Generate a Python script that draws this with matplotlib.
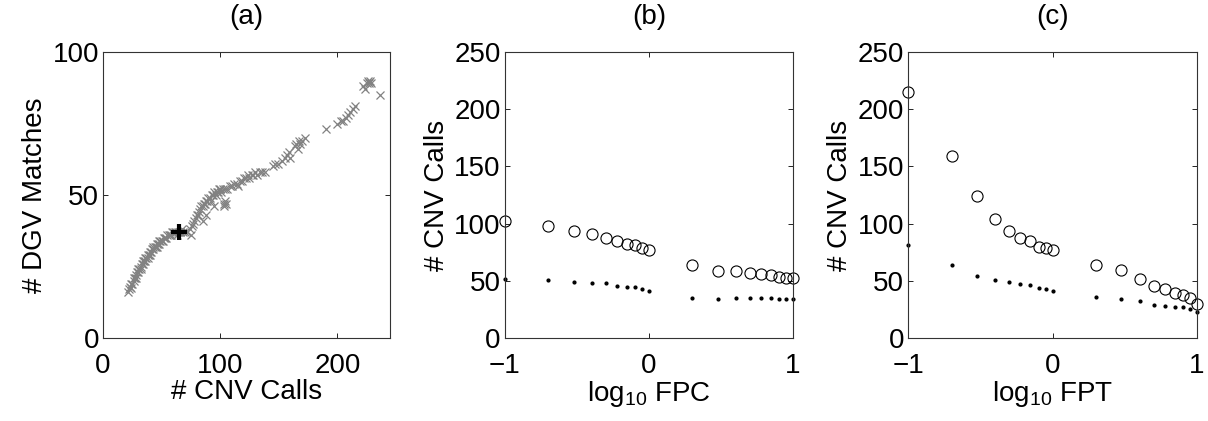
import numpy as np
import matplotlib.pyplot as plt

plt.rcParams['font.family'] = ['Liberation Sans', 'DejaVu Sans']
plt.rcParams['mathtext.fontset'] = 'custom'
plt.rcParams['mathtext.rm'] = 'Liberation Sans'

# (a) DGV matches vs number of CNV calls, one point per parameter setting
cnv_calls = [21, 22, 23, 24, 24, 25, 26, 26, 27, 28, 28, 29, 30, 30, 31, 32, 32,
             33, 34, 34, 35, 36, 36, 37, 38, 38, 39, 40, 40, 41, 42, 43, 43, 44,
             45, 46, 46, 47, 48, 48, 49, 50, 51, 52, 53, 54, 55, 56, 57, 58, 59,
             60, 61, 62, 63, 64, 66, 67, 68, 70, 72, 74, 75, 76, 77, 78, 79, 80,
             81, 82, 83, 84, 85, 85, 86, 87, 88, 88, 89, 90, 91, 92, 93, 94, 95,
             95, 96, 97, 98, 99, 100, 101, 102, 103, 104, 103, 105, 104, 106, 108,
             110, 112, 114, 115, 117, 119, 120, 122, 124, 125, 127, 128, 130, 131,
             134, 136, 138, 145, 147, 149, 153, 155, 157, 159, 160, 164, 165, 166,
             167, 168, 170, 172, 190, 200, 203, 205, 207, 209, 211, 213, 215, 222,
             224, 225, 226, 227, 228, 229, 236]
dgv_matches = [16, 17, 18, 17.5, 19, 19, 20, 21, 21, 22, 21, 23, 23, 24, 24, 25,
               24, 26, 26, 27, 27, 27, 28, 28, 29, 28, 29, 30, 29, 30, 31, 31, 32,
               32, 32, 32, 33, 33, 33, 34, 34, 34, 34, 35, 35, 35, 36, 36, 36, 36,
               37, 37, 37, 37, 36, 37, 37, 38, 37, 37, 37, 38, 36, 39, 40, 41, 42,
               43, 43, 44, 45, 46, 46, 41, 47, 47, 48, 43, 48, 49, 49, 48, 50, 50,
               51, 46, 50, 51, 51, 52, 52, 51, 52, 47, 48, 46, 47, 52, 52, 53, 53,
               54, 54, 53, 55, 55, 56, 56, 57, 56, 57, 57, 58, 57, 58, 58, 58, 60,
               61, 61, 62, 63, 64, 65, 63, 67, 68, 66, 69, 68, 69, 70, 73, 75, 76,
               76, 77, 78, 79, 80, 81, 88, 87, 89, 90, 89, 90, 89, 85]
chosen_calls = [65]
chosen_matches = [37]

# (b) and (c) CNV calls against the false-positive thresholds
thresholds = [0.1, 0.2, 0.3, 0.4, 0.5, 0.6, 0.7, 0.8, 0.9, 1.0,
              2, 3, 4, 5, 6, 7, 8, 9, 10]
fpc_total = [102, 98, 93.5, 91, 87.7, 84.8, 82.5, 81, 79, 76.7,
             63.6, 58.6, 58.6, 57.2, 56.3, 55.2, 53.7, 52.5, 52.3]
fpc_dgv = [51.4, 50.8, 48.8, 47.9, 47.9, 45.9, 44.7, 45, 42.9, 40.9,
           35.4, 34.5, 35.4, 35.4, 35.4, 35.4, 34.5, 34, 33.8]
fpt_total = [215.4, 159, 124.3, 103.7, 93.8, 87.4, 84.8, 79.5, 78.4, 77,
             63.6, 59.8, 51.7, 45.6, 42.7, 39.2, 37.2, 34.6, 29.8]
fpt_dgv = [81, 63.8, 54.6, 50.7, 48.7, 47.6, 46.6, 43.8, 42.8, 40.7,
           35.6, 34.5, 32.4, 29.2, 28.4, 27.4, 27.2, 25.6, 22.9]

FS = 20

fig = plt.figure(figsize=(12.08, 4.21), dpi=100)
ax_a = fig.add_axes([0.0853, 0.1971, 0.2376, 0.6793])
ax_b = fig.add_axes([0.4180, 0.1971, 0.2384, 0.6793])
ax_c = fig.add_axes([0.7517, 0.1971, 0.2392, 0.6793])


def style(ax):
    ax.tick_params(direction='in', length=3.5, width=0.6, top=True, right=True,
                   labelsize=FS, colors='black')
    ax.tick_params(axis='y', pad=3)
    ax.tick_params(axis='x', pad=11)
    for s in ax.spines.values():
        s.set_linewidth(0.8)
        s.set_color('#333333')


# panel (a)
ax_a.plot(cnv_calls, dgv_matches, 'x', color='#828282', ms=6, mew=0.9)
ax_a.plot(chosen_calls, chosen_matches, '+', color='black', ms=11, mew=3)
ax_a.set_xlim(0, 245)
ax_a.set_ylim(0, 100)
ax_a.set_xticks([0, 100, 200])
ax_a.set_yticks([0, 50, 100])
ax_a.set_xlabel('# CNV Calls', fontsize=FS, labelpad=0)
ax_a.set_ylabel('# DGV Matches', fontsize=FS, labelpad=3)
ax_a.set_title('(a)', fontsize=FS, pad=20)
style(ax_a)

# panels (b) and (c)
x = np.log10(thresholds)
for ax, total, dgv, name, tag in [(ax_b, fpc_total, fpc_dgv, 'FPC', '(b)'),
                                  (ax_c, fpt_total, fpt_dgv, 'FPT', '(c)')]:
    ax.plot(x, total, 'o', mfc='none', mec='black', ms=8, mew=0.8, clip_on=False)
    ax.plot(x, dgv, '.', color='black', ms=4, clip_on=False)
    ax.set_xlim(-1, 1)
    ax.set_ylim(0, 250)
    ax.set_xticks([-1, 0, 1])
    ax.set_xticklabels(['\u22121', '0', '1'])
    ax.set_yticks([0, 50, 100, 150, 200, 250])
    ax.set_xlabel(r'log$_{10}$ ' + name, fontsize=FS, labelpad=0)
    ax.set_ylabel('# CNV Calls', fontsize=FS, labelpad=3)
    ax.set_title(tag, fontsize=FS, pad=20)
    style(ax)

fig.savefig('out.png', dpi=100)
